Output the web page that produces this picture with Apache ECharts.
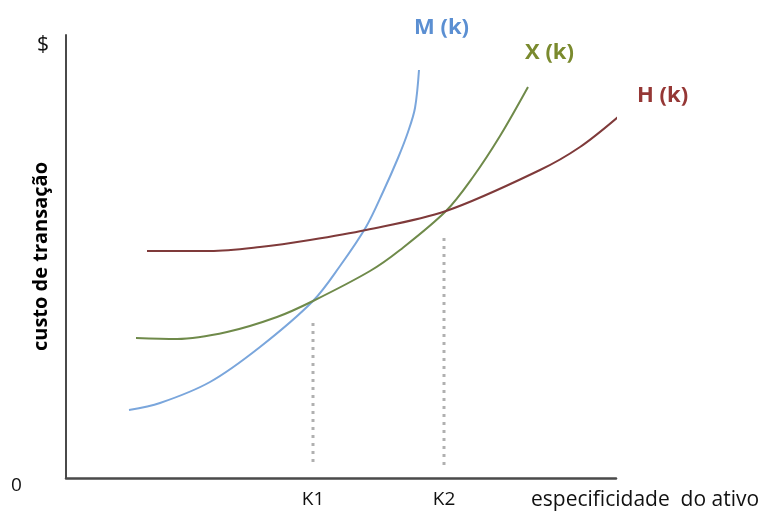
<!DOCTYPE html>
<html><head><meta charset="utf-8">
<script src="https://cdn.jsdelivr.net/npm/echarts@6/dist/echarts.min.js"></script>
<style>html,body{margin:0;padding:0;background:#fff}#c{width:782px;height:516px}</style>
</head><body><div id="c"></div>
<script>
// curve points [asset specificity, transaction cost]
const mCurve = [[6.3,6.8],[9.4,7.5],[14.4,9.6],[19.4,13.1],[24.7,17.7],[27.4,21.2],[30.0,25.1],[31.7,28.6],[33.2,32.0],[34.2,34.6],[34.9,37.0],[35.3,40.8]];
const xCurve = [[7.0,14.0],[11.1,13.9],[16.1,14.6],[21.1,16.1],[24.7,17.7],[30.4,20.7],[33.4,22.8],[38.0,26.7],[40.7,30.1],[43.4,34.2],[46.2,39.1]];
const hCurve = [[8.1,22.7],[14.4,22.7],[19.4,23.1],[24.4,23.8],[30.0,24.8],[38.0,26.7],[47.4,30.8],[51.4,33.1],[55.2,36.1]];
const k1Line = [[24.7,1.6],[24.7,15.5]];
const k2Line = [[37.8,1.3],[37.8,24.0]];
const tickValues = [24.7, 37.8];
const tickLabels = ['K1', 'K2'];
const curveNames = ['M (k)', 'X (k)', 'H (k)'];

const chart = echarts.init(document.getElementById('c'));
const F = '"Open Sans", "Noto Sans", sans-serif';
const curveStyle = {smooth: 0.33, symbol: 'none', clip: false};
chart.setOption({
  animation: false,
  grid: {left: 66, right: 166, top: 35, bottom: 38},
  xAxis: {
    type: 'value', min: 0, max: 55,
    axisLine: {show: true, lineStyle: {color: '#4a4a4a', width: 2.5}},
    axisTick: {show: false}, splitLine: {show: false},
    axisLabel: {
      customValues: tickValues, margin: 12,
      formatter: v => tickLabels[tickValues.indexOf(v)] || '',
      color: '#111', fontFamily: F, fontSize: 19
    }
  },
  yAxis: {
    type: 'value', min: 0, max: 44.3,
    axisLine: {show: true, lineStyle: {color: '#4a4a4a', width: 2}},
    axisTick: {show: false}, axisLabel: {show: false}, splitLine: {show: false},
    name: 'custo de transação', nameLocation: 'middle', nameRotate: 90, nameGap: 15,
    nameTextStyle: {color: '#000', fontFamily: F, fontSize: 20, fontWeight: 'bold'}
  },
  series: [
    Object.assign({type: 'line', name: curveNames[0], data: mCurve, lineStyle: {color: '#7aa6dc', width: 2}}, curveStyle),
    Object.assign({type: 'line', name: curveNames[1], data: xCurve, lineStyle: {color: '#6f8a4a', width: 2}}, curveStyle),
    Object.assign({type: 'line', name: curveNames[2], data: hCurve, lineStyle: {color: '#7f3a3a', width: 2}}, curveStyle),
    {type: 'line', data: k1Line, symbol: 'none', lineStyle: {color: '#b0b0b0', width: 3, type: [3, 5]}},
    {type: 'line', data: k2Line, symbol: 'none', lineStyle: {color: '#b0b0b0', width: 3, type: [3, 5]}}
  ],
  graphic: [
    {type: 'text', left: 37, top: 35, style: {text: '$', fontFamily: F, fontSize: 21, fill: '#111'}},
    {type: 'text', left: 11, top: 476, style: {text: '0', fontFamily: F, fontSize: 19, fill: '#111'}},
    {type: 'text', left: 531, top: 490, style: {text: 'especificidade  do ativo', fontFamily: F, fontSize: 21, fill: '#111'}},
    {type: 'text', left: 414, top: 17, style: {text: curveNames[0], fontFamily: F, fontSize: 22, fontWeight: 'bold', fill: '#5b8fd2'}},
    {type: 'text', left: 525, top: 42, style: {text: curveNames[1], fontFamily: F, fontSize: 22, fontWeight: 'bold', fill: '#7a8a2e'}},
    {type: 'text', left: 637, top: 85, style: {text: curveNames[2], fontFamily: F, fontSize: 22, fontWeight: 'bold', fill: '#953735'}}
  ]
});
</script></body></html>
